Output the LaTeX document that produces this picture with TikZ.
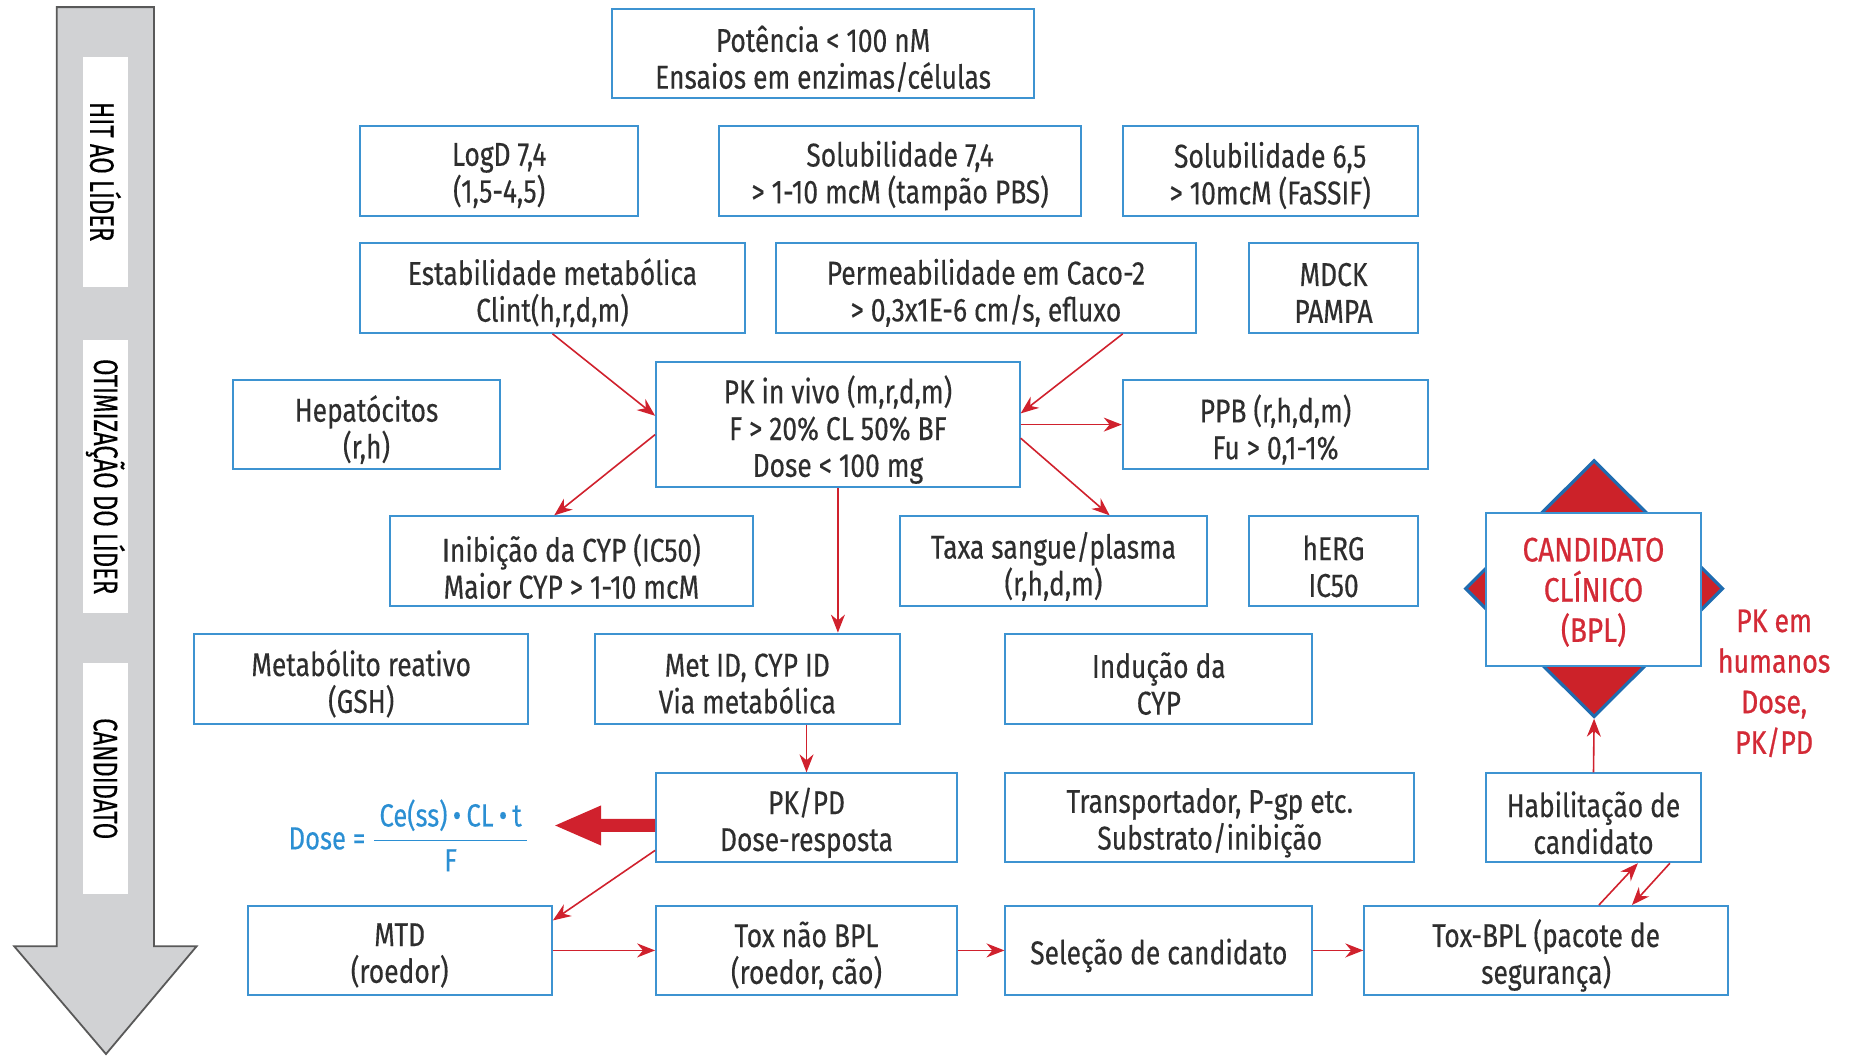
\documentclass[tikz,border=0pt]{standalone}
\usepackage{fontspec}
\setmainfont[FakeStretch=0.8,FakeBold=0.3]{Fira Sans}
\newfontfamily\condfont[FakeStretch=0.7,FakeBold=0.3]{Fira Sans}
\newfontfamily\redfont[FakeStretch=0.82,FakeBold=0.7]{Fira Sans}
\usetikzlibrary{arrows.meta,shapes.geometric,calc}
\definecolor{boxblue}{HTML}{3D93D1}
\definecolor{txt}{HTML}{2E2E2E}
\definecolor{arrred}{HTML}{D0212D}
\definecolor{fblue}{HTML}{2B8FD3}
\definecolor{dred}{HTML}{CC2229}
\definecolor{dblue}{HTML}{1F6CB0}
\definecolor{agray}{HTML}{D1D2D4}
\definecolor{redtext}{HTML}{D32A36}
\newcommand\pxu{0.59216pt}
\newcommand\bx[6]{\node[box, minimum width={(#4-#2)*\pxu}, minimum height={(#5-#3)*\pxu}] (#1) at ({(#2+#4)/2},{(#3+#5)/2}) {};
  \node[boxtext] (#1t) at ([yshift=-2.5pt]#1.center) {#6};}
\begin{document}
\begin{tikzpicture}[x=0.59216pt,y=-0.59216pt,
  box/.style={draw=boxblue, line width=1pt, fill=white, inner sep=0pt},
  boxtext/.style={align=center, text=txt, inner sep=0pt, font=\fontsize{16.5}{18.4}\selectfont},
  lbl/.style={fill=white, inner sep=0pt, text=black, rotate=-90,
    font=\condfont\fontsize{17}{18}\selectfont},
  arr/.style={draw=arrred, line width=0.8pt, -{Stealth[length=9pt,width=7pt]}},
  ftxt/.style={text=fblue, inner sep=0pt, font=\fontsize{16}{18.4}\selectfont},
  redtxt/.style={text=redtext, align=center, inner sep=0pt, font=\redfont\fontsize{16.3}{20.3}\selectfont}]
\useasboundingbox (0,0) rectangle (1568,893);

% big left arrow
\draw[draw=gray!70!black, line width=0.9pt, fill=agray, line join=miter]
  (48,6) -- (130,6) -- (130,799) -- (166,799) -- (89.5,890) -- (12,799) -- (48,799) -- cycle;
\node[lbl, minimum width={194*\pxu}, minimum height={38*\pxu}] (l1) at (89,145) {HIT AO LÍDER};
\node[lbl, minimum width={231*\pxu}, minimum height={38*\pxu}] (l2) at (89,402.5) {OTIMIZAÇÃO DO LÍDER};
\node[lbl, minimum width={195*\pxu}, minimum height={38*\pxu}] (l3) at (89,657.5) {CANDIDATO};

% boxes
\bx{pot}{517}{8}{873}{83}{Potência < 100 nM\\Ensaios em enzimas/células}
\bx{logd}{304}{106}{539}{182}{LogD 7,4\\(1,5-4,5)}
\bx{sola}{607}{106}{913}{182}{Solubilidade 7,4\\> 1-10 mcM (tampão PBS)}
\bx{solb}{948}{106}{1197}{182}{Solubilidade 6,5\\> 10mcM (FaSSIF)}
\bx{estab}{304}{205}{629}{281}{Estabilidade metabólica\\Clint(h,r,d,m)}
\bx{perm}{655}{205}{1010}{281}{Permeabilidade em Caco-2\\> 0,3x1E-6 cm/s, efluxo}
\bx{mdck}{1055}{205}{1197}{281}{MDCK\\PAMPA}
\bx{hep}{197}{321}{422}{396}{Hepatócitos\\(r,h)}
\bx{pk}{554}{306}{861}{411}{PK in vivo (m,r,d,m)\\F > 20\% CL 50\% BF\\Dose < 100 mg}
\bx{ppb}{948}{321}{1206}{396}{PPB (r,h,d,m)\\Fu > 0,1-1\%}
\bx{inib}{329}{436}{636}{512}{Inibição da CYP (IC50)\\Maior CYP > 1-10 mcM}
\bx{taxa}{760}{436}{1019}{512}{Taxa sangue/plasma\\(r,h,d,m)}
\bx{herg}{1055}{436}{1197}{512}{hERG\\IC50}
\bx{metr}{164}{535}{446}{611}{Metabólito reativo\\(GSH)}
\bx{metid}{502}{535}{760}{611}{Met ID, CYP ID\\Via metabólica}
\bx{ind}{849}{535}{1108}{611}{Indução da\\CYP}
\bx{pkpd}{554}{653}{808}{728}{PK/PD\\Dose-resposta}
\bx{trans}{849}{653}{1194}{728}{Transportador, P-gp etc.\\Substrato/inibição}
\bx{hab}{1255}{653}{1436}{728}{Habilitação de\\candidato}
\bx{mtd}{209}{765}{466}{840}{MTD\\(roedor)}
\bx{toxn}{554}{765}{808}{840}{Tox não BPL\\(roedor, cão)}
\bx{sel}{849}{765}{1108}{840}{Seleção de candidato}
\bx{toxbpl}{1152}{765}{1459}{840}{Tox-BPL (pacote de\\segurança)}

% clinical candidate
\node[diamond, draw=dblue, line width=1.6pt, fill=dred, aspect=1, inner sep=0pt,
  minimum width={218*\pxu}, minimum height={217*\pxu}] (dia) at (1346,497) {};
\node[box, minimum width={181*\pxu}, minimum height={129*\pxu}] (cand) at (1345.5,497.5) {};
\node[align=center, inner sep=0pt, text=redtext,
  font=\redfont\fontsize{17}{20.1}\selectfont] (candt) at ([yshift=-1.5pt]cand.center) {CANDIDATO\\CLÍNICO\\(BPL)};
\node[redtxt] (pkh) at (1498,577) {PK em\\humanos\\Dose,\\PK/PD};

% formula
\node[ftxt, anchor=east] (dose) at (309,708) {Dose =};
\node[ftxt] (frac) at (380.5,710) {\setlength\arrayrulewidth{0.9pt}\begin{tabular}{@{\,}c@{\,}}Ce(ss)\,•\,CL\,•\,t\\[1pt]\hline\rule{0pt}{15pt}F\end{tabular}};

% thick arrow
\coordinate (thtip) at (467,697);
\draw[draw=arrred, line width=6.5pt, -{Triangle[length=24pt,width=18pt]}] ([yshift=-3.85pt]pkpd.west) -- (thtip);

% connectors
\draw[arr] (estab.south) -- ([yshift=4.4pt]pk.west);
\draw[arr] ([xshift=68.4pt]perm.south) -- ([yshift=5.6pt]pk.east);
\draw[arr] (pk.east) -- (ppb.west);
\draw[arr] ([yshift=-5pt]pk.west) -- ([xshift=-8.6pt]inib.north);
\draw[arr] ([yshift=-6.8pt]pk.east) -- ([xshift=28.1pt]taxa.north);
\draw[arr] (pk.south) -- (pk.south |- metid.north);
\draw[arr] (pkpd.north |- metid.south) -- (pkpd.north);
\draw[arr] ([yshift=-16.3pt]pkpd.west) -- ([yshift=-7.7pt]mtd.north east);
\draw[arr] (mtd.east) -- (toxn.west);
\draw[arr] (toxn.east) -- (sel.west);
\draw[arr] (sel.east) -- (toxbpl.west);
\draw[arr] ([xshift=26.4pt]toxbpl.north) -- ([xshift=22.2pt]hab.south);
\draw[arr] ([xshift=38.2pt]hab.south) -- ([xshift=42.9pt]toxbpl.north);
\draw[arr] (hab.north) -- (dia.south);
\end{tikzpicture}
\end{document}
